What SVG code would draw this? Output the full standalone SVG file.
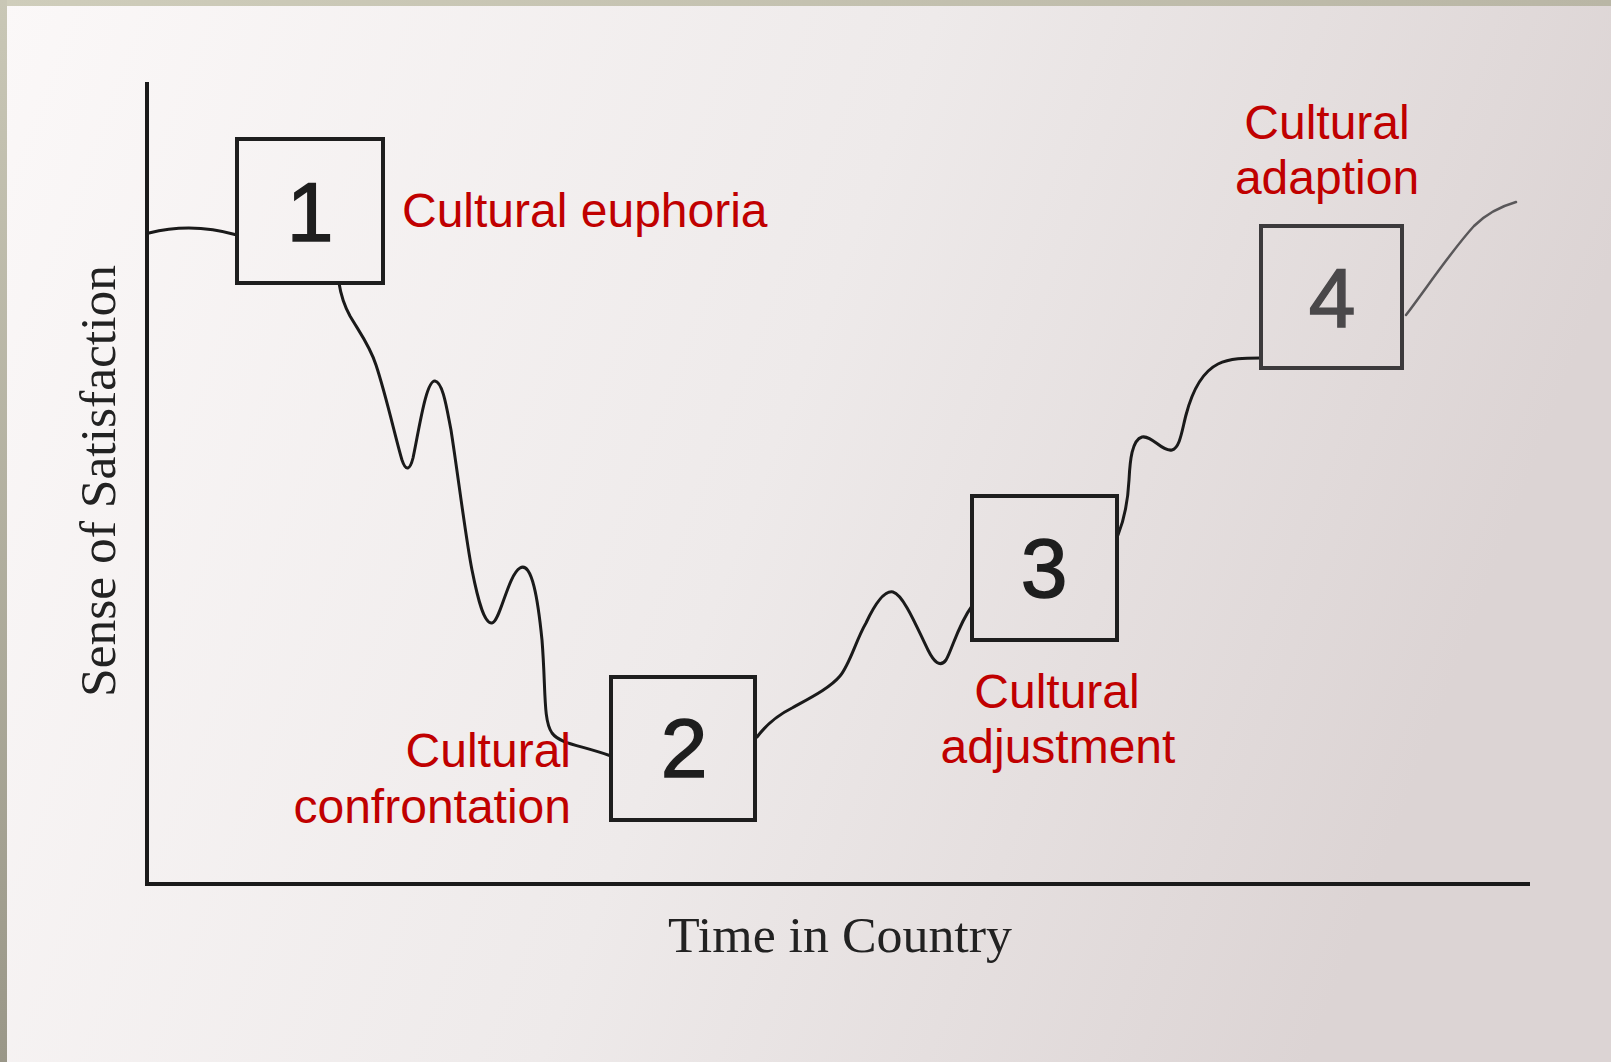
<svg xmlns="http://www.w3.org/2000/svg" width="1611" height="1062" viewBox="0 0 1611 1062">
  <defs>
    <linearGradient id="page" x1="0" y1="0" x2="1" y2="0.25">
      <stop offset="0" stop-color="#fbf8f8"/>
      <stop offset="0.55" stop-color="#eeeaea"/>
      <stop offset="1" stop-color="#dcd4d4"/>
    </linearGradient>
    <linearGradient id="topband" x1="0" y1="0" x2="1" y2="0">
      <stop offset="0" stop-color="#cfcdbb"/>
      <stop offset="1" stop-color="#b9b6a5"/>
    </linearGradient>
    <linearGradient id="leftband" x1="0" y1="0" x2="0" y2="1">
      <stop offset="0" stop-color="#c9c7b6"/>
      <stop offset="1" stop-color="#9a9788"/>
    </linearGradient>
  </defs>
  <style>
    .box { fill: none; stroke: #1e1e1e; stroke-width: 4; }
    .box4 { fill: none; stroke: #3c3a3c; stroke-width: 4; }
    .digit { font-family: "Liberation Sans", Arial, sans-serif; font-size: 84px; fill: #1e1e1e; stroke: #1e1e1e; stroke-width: 1.5; text-anchor: middle; }
    .label { font-family: "Liberation Sans", Arial, sans-serif; font-size: 48px; fill: #c00000; }
    .axis { stroke: #1a1a1a; stroke-width: 4; fill: none; }
    .axislabel { font-family: "Liberation Serif", "Times New Roman", serif; font-size: 51px; fill: #222; }
    .curve { fill: none; stroke: #1a1a1a; stroke-width: 3; stroke-linecap: round; stroke-linejoin: round; }
  </style>

  <rect x="0" y="0" width="1611" height="1062" fill="url(#page)"/>
  <rect x="0" y="0" width="1611" height="6" fill="url(#topband)"/>
  <rect x="0" y="0" width="7" height="1062" fill="url(#leftband)"/>

  <g id="axes">
    <line class="axis" x1="147" y1="82" x2="147" y2="886"/>
    <line class="axis" x1="145" y1="884" x2="1530" y2="884"/>
    <text class="axislabel" transform="translate(115,697) rotate(-90)" textLength="432" lengthAdjust="spacingAndGlyphs">Sense of Satisfaction</text>
    <text class="axislabel" x="668" y="952" textLength="344" lengthAdjust="spacingAndGlyphs">Time in Country</text>
  </g>

  <g id="connectors">
    <path class="curve" d="M149,233 Q192,222 237,235"/>
    <path class="curve" d="M339,283 C341,296 344,305 350,316 C360,333 370,346 376,365 C386,395 396,440 402,460 C406,472 410,470 413,458 C419,430 426,380 435,381 C443,382 447,410 451,430 C458,475 466,540 472,570 C478,600 484,624 492,623 C500,622 508,575 520,568 C532,561 538,600 542,640 C546,690 543,720 552,733 C560,744 580,745 611,756"/>
    <path class="curve" d="M757,737 C766,725 776,716 792,708 C810,698 830,688 840,676 C850,664 856,640 866,623 C874,606 884,590 893,592 C904,595 918,630 928,650 C934,662 940,668 946,660 C952,650 958,625 972,606"/>
    <path class="curve" d="M1118,535 C1124,520 1128,500 1129,480 C1130,460 1132,440 1142,437 C1152,435 1162,452 1172,450 C1180,448 1182,430 1186,415 C1192,392 1202,372 1218,364 C1230,358 1245,358 1261,358"/>
    <path class="curve" style="stroke:#5a585a;stroke-width:2.5" d="M1406,315 C1428,286 1452,250 1474,226 C1488,212 1502,206 1516,202"/>
  </g>

  <g id="node1">
    <rect class="box" x="237" y="139" width="146" height="144"/>
    <text class="digit" x="310" y="241">1</text>
    <text class="label" x="402" y="227">Cultural euphoria</text>
  </g>

  <g id="node2">
    <rect class="box" x="611" y="677" width="144" height="143"/>
    <text class="digit" x="684" y="777">2</text>
    <text class="label" text-anchor="end" x="571" y="767">Cultural</text>
    <text class="label" text-anchor="end" x="571" y="823">confrontation</text>
  </g>

  <g id="node3">
    <rect class="box" x="972" y="496" width="145" height="144"/>
    <text class="digit" x="1044" y="597">3</text>
    <text class="label" text-anchor="middle" x="1057" y="708">Cultural</text>
    <text class="label" text-anchor="middle" x="1058" y="763">adjustment</text>
  </g>

  <g id="node4">
    <rect class="box4" x="1261" y="226" width="141" height="142"/>
    <text class="digit" style="fill:#4a484a;stroke:#4a484a" x="1332" y="327">4</text>
    <text class="label" text-anchor="middle" x="1327" y="139">Cultural</text>
    <text class="label" text-anchor="middle" x="1327" y="194">adaption</text>
  </g>
</svg>
